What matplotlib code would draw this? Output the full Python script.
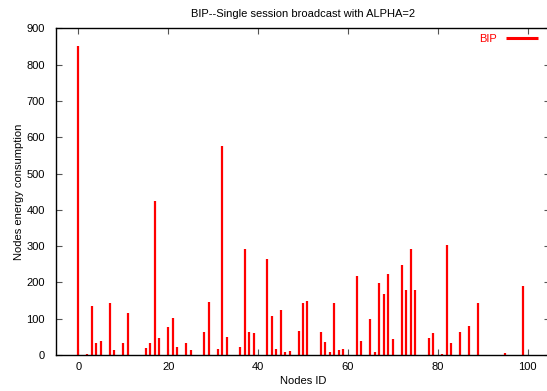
import matplotlib
matplotlib.use("Agg")
import matplotlib.pyplot as plt

plt.rcParams['font.family'] = ['Liberation Sans', 'DejaVu Sans']

node_ids = [0, 2, 3, 4, 5, 7, 8, 10, 11, 15, 16, 17, 18, 20, 21, 22, 24, 25, 28, 29,
            31, 32, 33, 36, 37, 38, 39, 42, 43, 44, 45, 46, 47, 49, 50, 51, 54, 55,
            56, 57, 58, 59, 62, 63, 65, 66, 67, 68, 69, 70, 72, 73, 74, 75, 78, 79,
            81, 82, 83, 85, 87, 89, 93, 95, 96, 99]
energy = [850, 3, 135, 34, 38, 144, 14, 32, 115, 18, 32, 424, 48, 78, 102, 23, 34, 15, 63, 147,
          17, 575, 49, 23, 291, 62, 60, 264, 107, 17, 123, 8, 11, 66, 143, 150, 63, 35,
          8, 143, 14, 16, 219, 38, 98, 8, 198, 168, 223, 43, 248, 179, 291, 179, 47, 60,
          3, 303, 32, 62, 81, 142, 1, 6, 1, 191]
x_ticks = [0, 20, 40, 60, 80, 100]
y_ticks = [0, 100, 200, 300, 400, 500, 600, 700, 800, 900]

fig = plt.figure(figsize=(5.47, 3.91), dpi=100)
ax = fig.add_axes([55.8/547, 1 - 355/391, 494.4/547, (355 - 28.3)/391])

ax.vlines(node_ids, 0, energy, colors='#ff0000', linewidth=1.6, label='BIP')

ax.set_xlim(-5, 105)
ax.set_ylim(0, 900)
ax.set_xticks(x_ticks)
ax.set_yticks(y_ticks)
ax.tick_params(direction='in', top=True, right=True, length=4, width=0.8,
               color='#555555', labelsize=8)
ax.tick_params(axis='y', pad=8)
ax.tick_params(axis='x', pad=5)
for s in ax.spines.values():
    s.set_linewidth(1.0)
    s.set_color('black')

ax.set_title('BIP--Single session broadcast with ALPHA=2', fontsize=8, pad=8)
ax.set_xlabel('Nodes ID', fontsize=8, labelpad=3)
ax.set_ylabel('Nodes energy consumption', fontsize=8, labelpad=1.5)

leg = ax.legend(loc='center right', bbox_to_anchor=(538/547, 1 - 39/391),
                bbox_transform=fig.transFigure, frameon=False, fontsize=8,
                markerfirst=False, handlelength=2.9, handletextpad=0.8,
                labelcolor='#ff0000', borderaxespad=0, borderpad=0)
for h in leg.get_lines():
    h.set_linewidth(2.2)

fig.savefig('out.png', dpi=100)
